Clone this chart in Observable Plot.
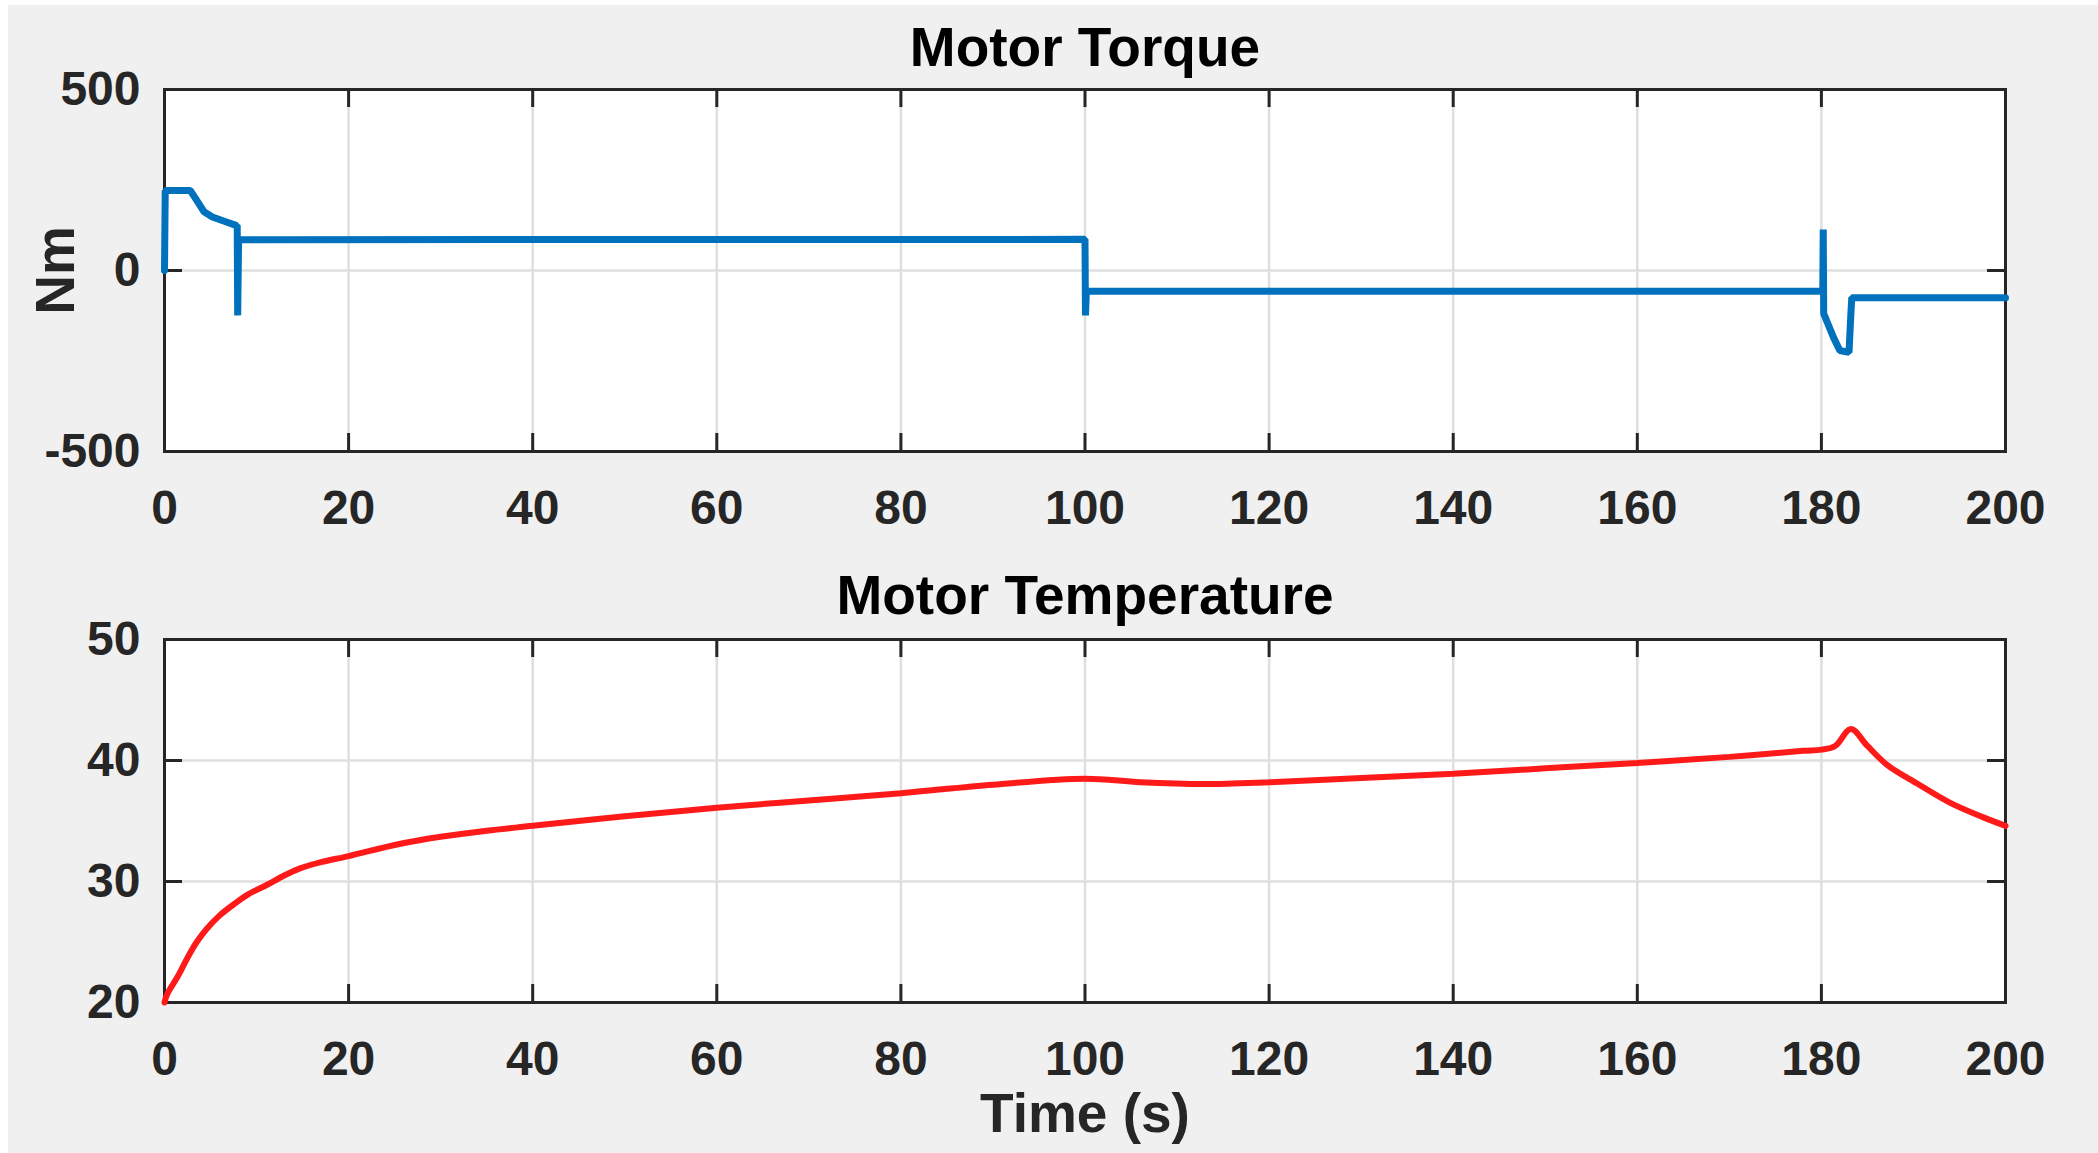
<!DOCTYPE html>
<html><head><meta charset="utf-8">
<script src="https://cdn.jsdelivr.net/npm/d3@7"></script>
<script src="https://cdn.jsdelivr.net/npm/@observablehq/plot@0.6"></script>
<style>
html,body{margin:0;padding:0;background:#ffffff;width:2098px;height:1153px;overflow:hidden;}
#fig{position:absolute;left:8px;top:5px;width:2090px;height:1148px;background:#f0f0f0;}
#fig svg{display:block;}
</style></head><body><div id="fig"></div>
<script>
// ---- data ----
const timeTicks = [0, 20, 40, 60, 80, 100, 120, 140, 160, 180, 200];
const torqueTicks = [-500, 0, 500];
const tempTicks = [20, 30, 40, 50];

const torqueTime = [0, 0.08, 2.8, 3.4, 4.3, 5.2, 6.5, 7.85, 7.9, 7.95, 8.05, 100.0, 100.05, 100.15, 180.15, 180.2, 180.25, 181.3, 182.0, 183.0, 183.2, 183.3, 200];
const torqueNm   = [0, 221, 221, 198, 162, 148, 136, 124, 124, -124, 85, 86, -124, -57, -57, 113, -119, -184, -221, -226, -120, -75, -75];

const tempTime = [0, 0.3, 1.4, 2.5, 3.5, 4.6, 6, 7.5, 9, 11.2, 13, 14.8, 17, 20, 25.5, 30, 35, 40, 50, 60, 70, 80, 90, 100, 106, 113, 120, 130, 140, 150, 160, 170, 178, 180, 181.5, 183.2, 185, 187.2, 190.4, 194, 197.6, 200];
const tempC    = [20.0, 20.7, 22.1, 23.7, 25.0, 26.1, 27.2, 28.1, 28.9, 29.75, 30.5, 31.1, 31.6, 32.1, 33.1, 33.7, 34.2, 34.6, 35.4, 36.1, 36.7, 37.3, 38.0, 38.5, 38.2, 38.05, 38.2, 38.55, 38.9, 39.35, 39.8, 40.3, 40.8, 40.9, 41.2, 42.6, 41.2, 39.6, 38.1, 36.5, 35.3, 34.6];

const torque = torqueTime.map((t, i) => ({t, v: torqueNm[i]}));
const temp = tempTime.map((t, i) => ({t, v: tempC[i]}));

// ---- styling ----
const W = 2090, ML = 156, MR = 93;
const innerW = W - ML - MR;
const FONT = "'Liberation Sans', Arial, Helvetica, sans-serif";
const AX = "#262626";
const GRID = "#dfdfdf";
const TICK = 18;

function panel({data, yDomain, yTicks, color, width, curve, title, height, marginTop, marginBottom, xLabel, yLabel, titleDy}) {
  const innerH = height - marginTop - marginBottom;
  const marks = [
    Plot.frame({fill: "white", stroke: null}),
    Plot.gridX(timeTicks, {stroke: GRID, strokeOpacity: 1, strokeWidth: 2.5}),
    Plot.gridY(yTicks, {stroke: GRID, strokeOpacity: 1, strokeWidth: 2.5}),
    Plot.tickX(timeTicks, {x: d => d, insetTop: innerH - TICK, stroke: AX, strokeWidth: 3}),
    Plot.tickX(timeTicks, {x: d => d, insetBottom: innerH - TICK, stroke: AX, strokeWidth: 3}),
    Plot.tickY(yTicks, {y: d => d, insetRight: innerW - TICK, stroke: AX, strokeWidth: 3}),
    Plot.tickY(yTicks, {y: d => d, insetLeft: innerW - TICK, stroke: AX, strokeWidth: 3}),
    Plot.frame({stroke: AX, strokeWidth: 3}),
    Plot.axisX({ticks: timeTicks, tickSize: 0, tickPadding: 38, fontSize: 48, fontWeight: "bold", fill: AX, label: null, tickFormat: d3.format("d")}),
    Plot.axisY({ticks: yTicks, tickSize: 0, tickPadding: 24, fontSize: 48, fontWeight: "bold", fill: AX, label: null, tickFormat: d => (d < 0 ? "-" : "") + Math.abs(d)}),
    Plot.line(data, {x: "t", y: "v", stroke: color, strokeWidth: width, strokeLinejoin: "miter", curve}),
    Plot.text([title], {frameAnchor: "top", dy: titleDy, lineAnchor: "bottom", fontSize: 55, fontWeight: "bold", fill: "#000"})
  ];
  if (xLabel) marks.push(Plot.text([xLabel], {frameAnchor: "bottom", dy: 129, lineAnchor: "bottom", fontSize: 55, fontWeight: "bold", fill: AX}));
  if (yLabel) marks.push(Plot.text([yLabel], {frameAnchor: "left", dx: -108, rotate: -90, lineAnchor: "middle", textAnchor: "middle", fontSize: 55, fontWeight: "bold", fill: AX}));
  return Plot.plot({
    width: W,
    height,
    marginLeft: ML,
    marginRight: MR,
    marginTop,
    marginBottom,
    style: {background: "transparent", fontFamily: FONT, overflow: "visible"},
    x: {domain: [0, 200]},
    y: {domain: yDomain},
    marks
  });
}

const fig = document.getElementById("fig");
fig.appendChild(panel({
  data: torque, yDomain: [-500, 500], yTicks: torqueTicks, color: "#0072BD", width: 7, curve: "linear",
  title: "Motor Torque", height: 570, marginTop: 84, marginBottom: 124, yLabel: "Nm", titleDy: -24
}));
fig.appendChild(panel({
  data: temp, yDomain: [20, 50], yTicks: tempTicks, color: "#ff1a1a", width: 6, curve: "catmull-rom",
  title: "Motor Temperature", height: 578, marginTop: 64, marginBottom: 151, xLabel: "Time (s)", titleDy: -26
}));
</script>
</body></html>
